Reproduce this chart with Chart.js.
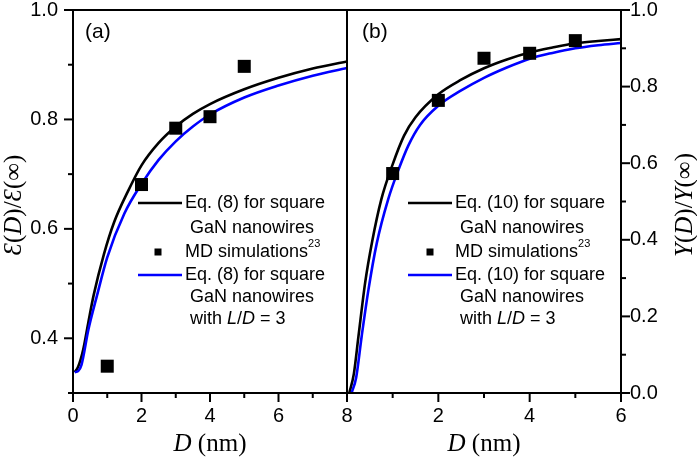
<!DOCTYPE html>
<html><head><meta charset="utf-8">
<script src="https://cdn.jsdelivr.net/npm/chart.js@4.4.0/dist/chart.umd.min.js"></script>
<style>
html,body{margin:0;padding:0;background:#fff;}
#wrap{position:relative;width:697px;height:458px;overflow:hidden;background:#fff;}
#ca{position:absolute;left:0;top:0;width:362px;height:458px;}
#cb{position:absolute;left:346px;top:0;width:351px;height:458px;}
</style></head><body>
<div id="wrap">
<canvas id="ca" width="362" height="458"></canvas>
<canvas id="cb" width="351" height="458"></canvas>
</div>
<script>
// ---------- Panel (a) data ----------
const aBlackD = [0.05, 0.15, 0.3, 0.45, 0.6, 0.9, 1.2, 1.6, 2.0, 2.5, 3.0, 3.5, 4.0, 5.0, 6.0, 7.0, 8.0];
const aBlackV = [0.338, 0.348, 0.380, 0.430, 0.478, 0.553, 0.612, 0.668, 0.716, 0.757, 0.787, 0.810, 0.828, 0.855, 0.876, 0.893, 0.906];
const aBlueD  = [0.05, 0.15, 0.25, 0.45, 0.7, 1.0, 1.5, 2.0, 2.5, 3.0, 3.5, 4.0, 5.0, 6.0, 7.0, 8.0];
const aBlueV  = [0.338, 0.340, 0.352, 0.416, 0.478, 0.548, 0.628, 0.682, 0.726, 0.760, 0.787, 0.809, 0.840, 0.862, 0.880, 0.894];
const aMdD = [1, 2, 3, 4, 5];
const aMdV = [0.349, 0.681, 0.784, 0.805, 0.897];
// ---------- Panel (b) data ----------
const bBlackD = [0.05, 0.15, 0.25, 0.4, 0.55, 0.75, 1.0, 1.25, 1.5, 2.0, 2.5, 3.0, 3.5, 4.0, 4.5, 5.0, 5.5, 6.0];
const bBlackV = [0.0, 0.05, 0.147, 0.29, 0.395, 0.505, 0.597, 0.672, 0.720, 0.78, 0.818, 0.848, 0.871, 0.889, 0.902, 0.913, 0.919, 0.924];
const bBlueD  = [0.1, 0.2, 0.32, 0.47, 0.65, 0.9, 1.15, 1.35, 1.6, 2.0, 2.5, 3.0, 3.5, 4.0, 4.5, 5.0, 5.5, 6.0];
const bBlueV  = [0.0, 0.04, 0.147, 0.27, 0.39, 0.505, 0.59, 0.648, 0.700, 0.75, 0.79, 0.823, 0.85, 0.873, 0.888, 0.90, 0.908, 0.914];
const bMdD = [1, 2, 3, 4, 5];
const bMdV = [0.573, 0.764, 0.874, 0.887, 0.920];
// ---------- tick / label text ----------
const aLegend1 = "Eq. (8) for square";
const bLegend1 = "Eq. (10) for square";
const legendGaN = "GaN nanowires";
const legendMD = "MD simulations";
const legendRef = "23";

const BLUE = '#0000ff';
const SANS = "'Liberation Sans', Arial, sans-serif";
const SERIF = "'Liberation Serif', 'Times New Roman', serif";

function pts(xs, ys) { return xs.map((x, i) => ({x: x, y: ys[i]})); }

function rich(ctx, parts, x, y, align) {
  let w = 0;
  parts.forEach(p => { ctx.font = p.f; w += ctx.measureText(p.t).width; });
  let cx = align === 'center' ? x - w / 2 : x;
  ctx.textAlign = 'left';
  parts.forEach(p => { ctx.font = p.f; ctx.fillText(p.t, cx, y + (p.dy || 0)); cx += ctx.measureText(p.t).width; });
  return cx;
}

function makePlugin(cfg) {
  return {
    id: 'deco',
    afterDraw(chart) {
      const ctx = chart.ctx, a = chart.chartArea;
      const xs = chart.scales.x, ys = chart.scales.y;
      ctx.save();
      ctx.strokeStyle = '#000'; ctx.fillStyle = '#000'; ctx.lineWidth = 2;
      ctx.lineCap = 'butt';
      ctx.strokeRect(a.left, a.top, a.right - a.left, a.bottom - a.top);
      xs.ticks.forEach(t => {
        const p = xs.getPixelForValue(t.value);
        const major = Math.round(t.value) % 2 === 0;
        const len = major ? 9 : 5;
        ctx.beginPath(); ctx.moveTo(p, a.bottom); ctx.lineTo(p, a.bottom + len); ctx.stroke();
      });
      ys.ticks.forEach(t => {
        const p = ys.getPixelForValue(t.value);
        const major = Math.round(t.value * 10) % 2 === 0;
        const len = major ? 9 : 5;
        ctx.beginPath();
        if (cfg.ySide === 'left') { ctx.moveTo(a.left, p); ctx.lineTo(a.left - len, p); }
        else { ctx.moveTo(a.right, p); ctx.lineTo(a.right + len, p); }
        ctx.stroke();
      });
      ctx.textBaseline = 'middle';
      ctx.font = '21px ' + SANS;
      ctx.textAlign = 'left';
      ctx.fillText(cfg.panel, a.left + cfg.panelDx, a.top + 22);
      const L = a.left, lx0 = L + cfg.lineX0, lx1 = L + cfg.lineX1, tx = L + cfg.textX, tx2 = tx + 5;
      const f18 = '18px ' + SANS, f18i = 'italic 18px ' + SANS;
      ctx.lineWidth = 2.5;
      ctx.strokeStyle = '#000';
      ctx.beginPath(); ctx.moveTo(lx0, 203); ctx.lineTo(lx1, 203); ctx.stroke();
      rich(ctx, [{t: cfg.legend1, f: f18}], tx, 203);
      rich(ctx, [{t: legendGaN, f: f18}], tx2, 228);
      ctx.fillRect(L + cfg.markX - 3.5, 252 - 3.5, 7, 7);
      rich(ctx, [{t: legendMD, f: f18}, {t: legendRef, f: '11px ' + SANS, dy: -8}], tx, 252);
      ctx.strokeStyle = BLUE;
      ctx.beginPath(); ctx.moveTo(lx0, 275); ctx.lineTo(lx1, 275); ctx.stroke();
      rich(ctx, [{t: cfg.legend1, f: f18}], tx, 275);
      rich(ctx, [{t: legendGaN, f: f18}], tx2, 297);
      rich(ctx, [{t: 'with ', f: f18}, {t: 'L', f: f18i}, {t: '/', f: f18}, {t: 'D', f: f18i}, {t: ' = 3', f: f18}], tx2, 319);
      const f25 = '25px ' + SERIF, f25i = 'italic 25px ' + SERIF;
      ctx.textBaseline = 'alphabetic';
      rich(ctx, [{t: 'D', f: f25i}, {t: ' (nm)', f: f25}], (a.left + a.right) / 2, 451, 'center');
      ctx.save();
      ctx.translate(cfg.yTitleX, 205);
      ctx.rotate(-Math.PI / 2);
      ctx.textBaseline = 'middle';
      rich(ctx, cfg.yTitle(f25, f25i), 0, 0, 'center');
      ctx.restore();
      ctx.restore();
    }
  };
}

function zeroPad(s) { s.paddingTop = 0; s.paddingBottom = 0; s.paddingLeft = 0; s.paddingRight = 0; }

function makeChart(id, o) {
  return new Chart(document.getElementById(id), {
    type: 'scatter',
    data: {
      datasets: [
        {label: 'MD', data: pts(o.mdD, o.mdV), pointStyle: 'rect', pointRadius: 9.2, pointHoverRadius: 9.2,
         backgroundColor: '#000', borderColor: '#000', borderWidth: 0, showLine: false, order: 0},
        {label: 'black', data: pts(o.blackD, o.blackV), showLine: true, pointRadius: 0, borderColor: '#000',
         borderWidth: 2.6, cubicInterpolationMode: 'monotone', fill: false, order: 2},
        {label: 'blue', data: pts(o.blueD, o.blueV), showLine: true, pointRadius: 0, borderColor: BLUE,
         borderWidth: 2.6, cubicInterpolationMode: 'monotone', fill: false, order: 1}
      ]
    },
    options: {
      responsive: false, animation: false, devicePixelRatio: 1,
      layout: {padding: o.padding, autoPadding: false},
      plugins: {legend: {display: false}, tooltip: {enabled: false}},
      scales: {
        x: {
          type: 'linear', min: o.xMin, max: o.xMax,
          ticks: {stepSize: 1, autoSkip: false, maxRotation: 0, color: '#000', font: {family: SANS, size: 20}, padding: 2,
                  callback: o.xLabel},
          grid: {display: true, drawOnChartArea: false, drawTicks: true, tickLength: 9, tickColor: 'rgba(0,0,0,0)'},
          border: {display: false},
          afterFit: s => { s.height = 65; zeroPad(s); }
        },
        y: {
          type: 'linear', position: o.ySide, min: o.yMin, max: o.yMax,
          ticks: {stepSize: 0.1, autoSkip: false, color: '#000', font: {family: SANS, size: 20}, padding: o.yPad,
                  callback: v => { const k = Math.round(v * 10); return k % 2 === 0 ? (k / 10).toFixed(1) : ''; }},
          grid: {display: true, drawOnChartArea: false, drawTicks: true, tickLength: o.yTick, tickColor: 'rgba(0,0,0,0)'},
          border: {display: false},
          afterFit: s => { s.width = o.yWidth; zeroPad(s); }
        }
      }
    },
    plugins: [makePlugin(o.deco)]
  });
}

makeChart('ca', {
  mdD: aMdD, mdV: aMdV, blackD: aBlackD, blackV: aBlackV, blueD: aBlueD, blueV: aBlueV,
  padding: {top: 10, right: 15, left: 0, bottom: 0},
  xMin: 0, xMax: 8, yMin: 0.3, yMax: 1.0, ySide: 'left', yWidth: 73, yPad: 6, yTick: 9,
  xLabel: v => (Math.round(v) % 2 === 0 ? String(Math.round(v)) : ''),
  deco: {
    ySide: 'left', panel: '(a)', panelDx: 12, lineX0: 65, lineX1: 109, textX: 112, markX: 85,
    legend1: aLegend1, yTitleX: 14,
    yTitle: (f, fi) => [{t: 'Ɛ', f: fi}, {t: '(', f: f}, {t: 'D', f: fi}, {t: ')/', f: f}, {t: 'Ɛ', f: fi}, {t: '(∞)', f: f}]
  }
});

makeChart('cb', {
  mdD: bMdD, mdV: bMdV, blackD: bBlackD, blackV: bBlackV, blueD: bBlueD, blueV: bBlueV,
  padding: {top: 10, right: 0, left: 1, bottom: 0},
  xMin: 0, xMax: 6, yMin: 0.0, yMax: 1.0, ySide: 'right', yWidth: 76, yPad: 2, yTick: 7,
  xLabel: v => { const k = Math.round(v); return (k % 2 === 0 && k !== 0) ? String(k) : ''; },
  deco: {
    ySide: 'right', panel: '(b)', panelDx: 15, lineX0: 61, lineX1: 105, textX: 108, markX: 83,
    legend1: bLegend1, yTitleX: 339,
    yTitle: (f, fi) => [{t: 'Y', f: fi}, {t: '(', f: f}, {t: 'D', f: fi}, {t: ')/', f: f}, {t: 'Y', f: fi}, {t: '(∞)', f: f}]
  }
});
</script>
</body></html>
